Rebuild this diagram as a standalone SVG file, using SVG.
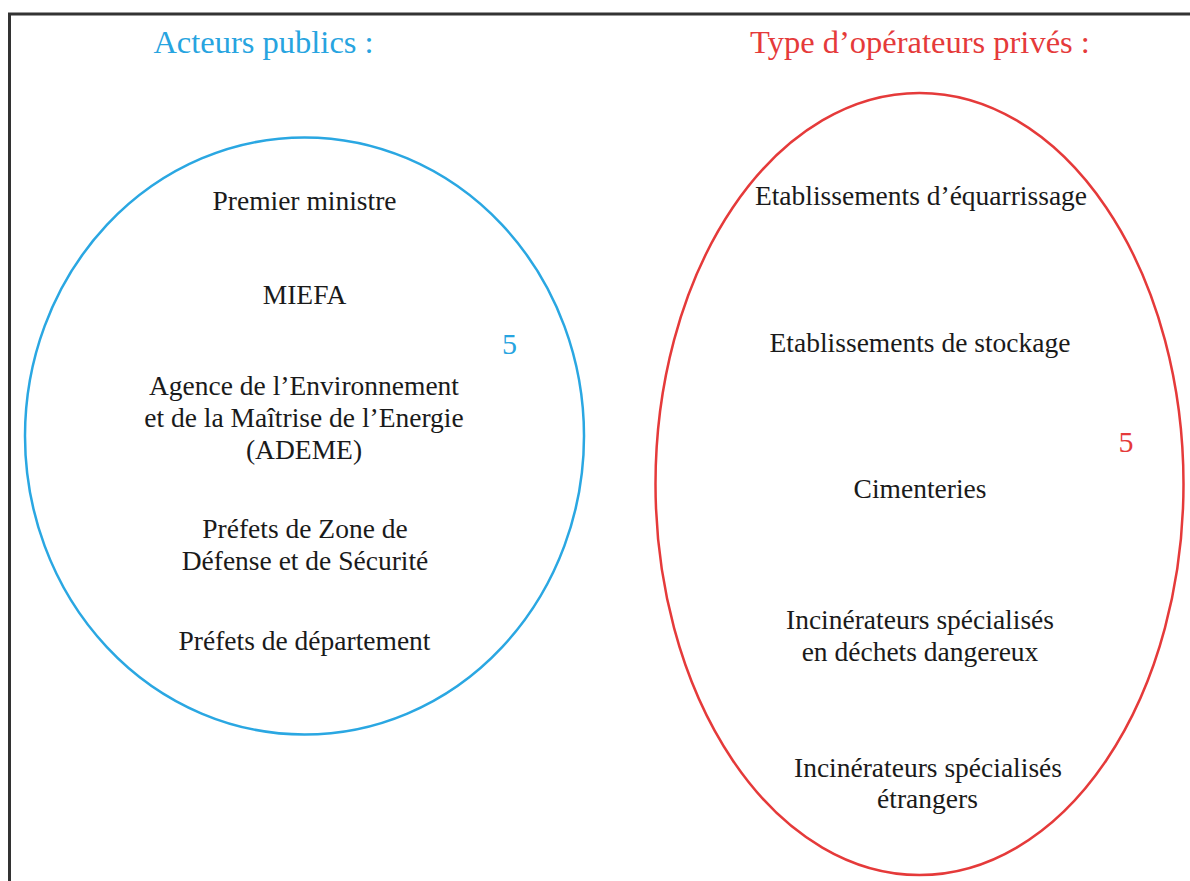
<svg xmlns="http://www.w3.org/2000/svg" width="1190" height="881" viewBox="0 0 1190 881">
<style>
.t{font-family:"Liberation Serif","Times New Roman",serif;font-size:27.5px;fill:#1a1a1a;text-anchor:middle}
.h{font-family:"Liberation Serif","Times New Roman",serif;font-size:32.5px;text-anchor:middle}
.n{font-size:30px}
.blue{fill:#27a4e0}
.red{fill:#e53a3a}
</style>
<rect width="1190" height="881" fill="#ffffff"/>
<rect x="9.5" y="14" width="1200" height="900" fill="none" stroke="#333333" stroke-width="3"/>
<g id="title-public"><text class="h blue" x="263.5" y="53">Acteurs publics :</text></g>
<g id="title-private"><text class="h red" x="920" y="53">Type d’opérateurs privés :</text></g>
<g id="public">
<ellipse cx="304.5" cy="436" rx="279.5" ry="298.5" fill="none" stroke="#2aa7e2" stroke-width="2.5"/>
<text class="t" x="304.5" y="210">Premier ministre</text>
<text class="t" x="304.5" y="304">MIEFA</text>
<text class="h n blue" x="509.5" y="354">5</text>
<text class="t" x="304" y="395">Agence de l’Environnement</text>
<text class="t" x="304" y="427">et de la Maîtrise de l’Energie</text>
<text class="t" x="304" y="459">(ADEME)</text>
<text class="t" x="305" y="538">Préfets de Zone de</text>
<text class="t" x="305" y="570">Défense et de Sécurité</text>
<text class="t" x="304.5" y="650">Préfets de département</text>
</g>
<g id="private">
<ellipse cx="919.5" cy="484" rx="264" ry="391" fill="none" stroke="#e53a3a" stroke-width="2.5"/>
<text class="t" x="921" y="205">Etablissements d’équarrissage</text>
<text class="t" x="920" y="352">Etablissements de stockage</text>
<text class="h n red" x="1126" y="452">5</text>
<text class="t" x="920" y="498">Cimenteries</text>
<text class="t" x="920" y="629">Incinérateurs spécialisés</text>
<text class="t" x="920" y="661">en déchets dangereux</text>
<text class="t" x="928" y="777">Incinérateurs spécialisés</text>
<text class="t" x="927.5" y="808">étrangers</text>
</g>
<g id="connectors"></g>
</svg>
